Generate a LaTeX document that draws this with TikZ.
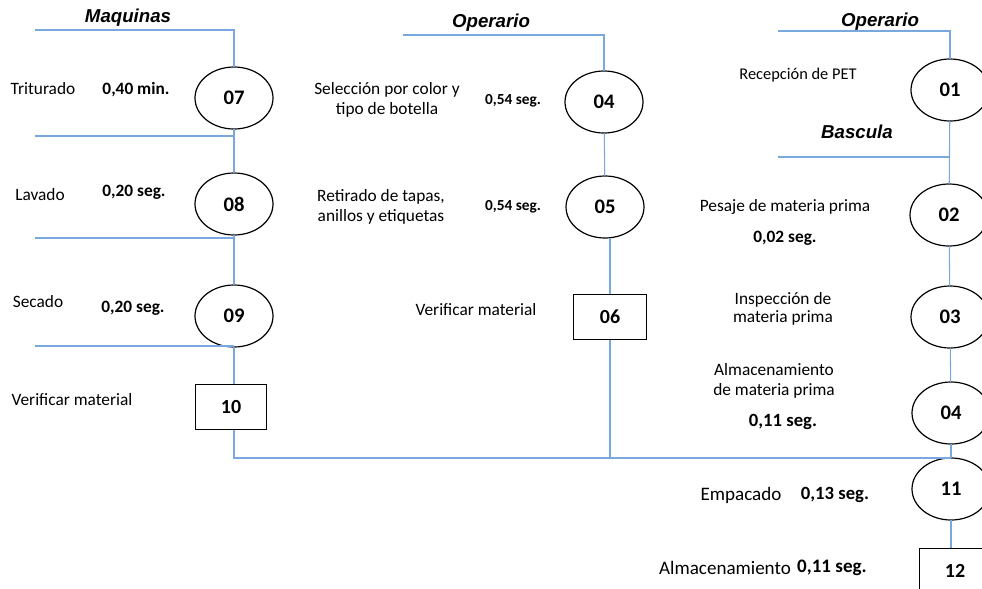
\documentclass[tikz,border=0pt]{standalone}
\usepackage{fontspec}
\setmainfont{Carlito}
\newfontfamily\headfont{Liberation Sans}
\usetikzlibrary{shapes.geometric}
\definecolor{azul}{RGB}{120,168,222}
\tikzset{
  paso/.style={ellipse,draw,line width=0.9pt,minimum width=58.5pt,minimum height=46.5pt,inner sep=0pt,outer sep=0pt,font=\fontsize{15.5}{17}\selectfont\bfseries},
  caja/.style={rectangle,draw,line width=0.9pt,minimum width=53pt,minimum height=34pt,inner sep=0pt,outer sep=0pt,font=\fontsize{15}{17}\selectfont\bfseries},
  linea/.style={azul,line width=0.8pt},
  etiq/.style={font=\fontsize{13}{14.5}\selectfont,align=center,inner sep=0pt},
  tiempo/.style={font=\fontsize{13}{15}\selectfont\bfseries,inner sep=0pt},
  titulo/.style={font=\fontsize{14}{16}\selectfont\headfont\bfseries\itshape,inner sep=0pt}
}
\begin{document}
\begin{tikzpicture}[x=0.75pt,y=-0.75pt]
\useasboundingbox (0,0) rectangle (982,589);
\clip (0,0) rectangle (982,589);

\node[titulo] (tMaq) at (128,18) {Maquinas};
\node[titulo] (tOp1) at (491,23) {Operario};
\node[titulo] (tOp2) at (880,22) {Operario};
\node[titulo] (tBas) at (857,132) {Bascula};

\node[paso] (n07) at (234,98) {07};
\node[paso] (n08) at (234,204) {08};
\node[paso] (n09) at (234,316) {09};
\node[caja] (n10) at (231,407) {10};
\node[paso] (m04) at (604,102) {04};
\node[paso] (m05) at (605,207) {05};
\node[caja,minimum width=55pt] (m06) at (610,317) {06};
\node[paso] (r01) at (950,90) {01};
\node[paso] (r02) at (949,215) {02};
\node[paso] (r03) at (950,317) {03};
\node[paso] (r04) at (951,413) {04};
\node[paso] (r11) at (951,489) {11};
\node[caja] (r12) at (955,571) {12};

\node[etiq] (l07) at (43,89) {Triturado};
\node[tiempo] (t07) at (136,90) {0,40 min.};
\node[etiq] (l08) at (40,195) {Lavado};
\node[tiempo] (t08) at (134,192) {0,20 seg.};
\node[etiq] (l09) at (38,302) {Secado};
\node[tiempo] (t09) at (133,308) {0,20 seg.};
\node[etiq] (l10) at (72,400) {Verificar material};
\node[etiq] (l04) at (387,100) {Selección por color y\\tipo de botella};
\node[tiempo,font=\fontsize{11.5}{13}\selectfont\bfseries] (t04) at (513,101) {0,54 seg.};
\node[etiq] (l05) at (381,207) {Retirado de tapas,\\anillos y etiquetas};
\node[tiempo,font=\fontsize{11.5}{13}\selectfont\bfseries] (t05) at (513,207) {0,54 seg.};
\node[etiq] (l06) at (476,310) {Verificar material};
\node[etiq,font=\fontsize{12.3}{14}\selectfont] (l01) at (798,75) {Recepción de PET};
\node[etiq] (l02) at (785,207) {Pesaje de materia prima};
\node[tiempo] (t02) at (785,238) {0,02 seg.};
\node[etiq,font=\fontsize{13}{14}\selectfont] (l03) at (783,309) {Inspección de\\materia prima};
\node[etiq] (lA) at (774,381) {Almacenamiento\\de materia prima};
\node[tiempo,font=\fontsize{14}{16}\selectfont\bfseries] (tA) at (783,422) {0,11 seg.};
\node[etiq,font=\fontsize{14.3}{16}\selectfont] (l11) at (741,495) {Empacado};
\node[tiempo,font=\fontsize{14}{16}\selectfont\bfseries] (t11) at (835,495) {0,13 seg.};
\node[etiq,font=\fontsize{14.3}{16}\selectfont] (l12) at (725,568) {Almacenamiento};
\node[tiempo,font=\fontsize{14.3}{16}\selectfont\bfseries] (t12) at (832,568) {0,11 seg.};

\coordinate (a1) at (35,30);
\coordinate (a2) at (35,136);
\coordinate (a3) at (35,238);
\coordinate (a4) at (35,346);
\coordinate (b1) at (403,35);
\coordinate (c1) at (778,31);
\coordinate (c2) at (778,157);

\draw[linea] (a1) -| (n07.north);
\draw[linea] (a2) -- (a2 -| n07.south);
\draw[linea] (a3) -- (a3 -| n08.south);
\draw[linea] (a4) -- (a4 -| n09.south);
\draw[linea] (n07) -- (n08);
\draw[linea] (n08) -- (n09);
\draw[linea] (n09.south) -- (n09.south |- n10.north);
\draw[linea] (n09.south |- n10.south) |- (r11.north);
\draw[linea] (b1) -| (m04.north);
\draw[linea] (m04) -- (m05);
\draw[linea] (m06.north) -- (m06.north |- m05.south);
\draw[linea] (m06.south) -- (m06.south |- r11.north);
\draw[linea] (c1) -| (r01.north);
\draw[linea] (c2) -- (c2 -| r01.south);
\draw[linea] (r01) -- (r02);
\draw[linea] (r02) -- (r03);
\draw[linea] (r03) -- (r04);
\draw[linea] (r04) -- (r11);
\draw[linea] (r11.south) -- (r11.south |- r12.north);
\end{tikzpicture}
\end{document}
